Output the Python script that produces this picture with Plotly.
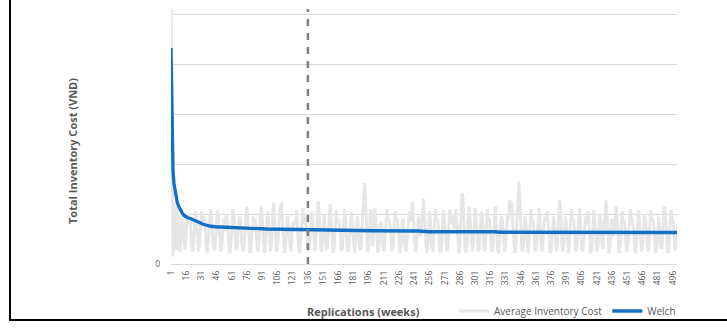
import plotly.graph_objects as go

# Replication index (weeks) and the per-replication average inventory cost
replications = list(range(1, 501))
avg_cost = [
    5.60, 2.40, 0.15, 1.25, 0.35, 0.30, 1.15, 1.00, 0.30, 0.25,
    0.70, 1.10, 0.90, 0.40, 0.28, 0.60, 1.00, 0.95, 0.80, 0.90,
    0.55, 0.25, 0.30, 0.70, 1.05, 0.95, 0.50, 0.25, 0.35, 0.80,
    1.05, 0.90, 0.85, 0.95, 0.60, 0.30, 0.22, 0.45, 0.85, 1.10,
    0.95, 0.55, 0.30, 0.28, 0.60, 0.95, 1.08, 0.85, 0.45, 0.25,
    0.30, 0.65, 0.90, 0.80, 0.88, 1.00, 0.70, 0.35, 0.22, 0.40,
    0.80, 1.10, 1.00, 0.60, 0.30, 0.28, 0.55, 0.90, 0.95, 0.75,
    0.40, 0.25, 0.35, 0.75, 1.05, 1.15, 0.80, 0.40, 0.22, 0.35,
    0.70, 0.95, 0.85, 0.90, 0.65, 0.30, 0.25, 0.50, 0.95, 1.15,
    0.90, 0.45, 0.22, 0.30, 0.70, 1.05, 0.95, 0.55, 0.25, 0.40,
    0.95, 1.22, 1.00, 0.50, 0.25, 0.30, 0.70, 1.00, 1.15, 1.22,
    0.80, 0.35, 0.22, 0.40, 0.80, 0.95, 0.75, 0.40, 0.25, 0.45,
    0.80, 0.85, 0.78, 0.88, 1.08, 0.60, 0.28, 0.22, 0.50, 0.90,
    1.12, 0.80, 0.85, 0.95, 0.65, 0.30, 0.25, 0.55, 0.90, 1.05,
    0.80, 0.40, 0.25, 0.45, 0.95, 1.25, 1.05, 0.55, 0.25, 0.30,
    0.75, 1.00, 0.70, 0.30, 0.28, 0.65, 1.00, 1.20, 0.85, 0.40,
    0.22, 0.35, 0.75, 1.08, 0.80, 0.90, 0.85, 0.50, 0.25, 0.30,
    0.70, 1.10, 0.95, 0.60, 0.28, 0.25, 0.60, 0.95, 1.05, 0.75,
    0.35, 0.22, 0.45, 0.85, 0.95, 0.70, 0.30, 0.28, 0.65, 1.10,
    1.45, 1.62, 1.20, 0.60, 0.25, 0.30, 0.70, 1.10, 0.80, 0.35,
    0.70, 1.12, 0.90, 0.45, 0.22, 0.35, 0.75, 0.85, 0.70, 0.35,
    0.25, 0.50, 0.85, 1.10, 0.85, 0.90, 0.75, 0.40, 0.25, 0.40,
    0.80, 1.05, 0.88, 0.92, 0.70, 0.35, 0.22, 0.40, 0.85, 0.90,
    0.60, 0.30, 0.25, 0.50, 0.90, 1.05, 0.85, 0.95, 1.25, 1.00,
    0.50, 0.25, 0.30, 0.70, 0.95, 0.80, 0.55, 0.70, 1.05, 1.30,
    0.95, 0.45, 0.22, 0.30, 0.70, 1.05, 0.75, 0.35, 0.25, 0.45,
    0.85, 1.10, 0.85, 0.90, 0.65, 0.30, 0.22, 0.45, 0.85, 1.08,
    0.80, 0.40, 0.25, 0.35, 0.75, 1.10, 0.80, 0.88, 0.95, 0.70,
    0.85, 1.10, 0.80, 0.40, 0.22, 0.45, 0.95, 1.42, 1.30, 0.75,
    0.30, 0.22, 0.40, 0.85, 1.15, 0.85, 0.45, 0.25, 0.35, 0.75,
    1.12, 0.90, 0.50, 0.25, 0.30, 0.70, 1.05, 0.95, 0.55, 0.25,
    0.35, 0.80, 1.10, 0.85, 0.92, 0.60, 0.28, 0.25, 0.60, 1.00,
    1.15, 0.70, 0.30, 0.22, 0.45, 0.85, 0.95, 0.80, 0.40, 0.25,
    0.40, 0.85, 1.00, 0.90, 1.28, 1.10, 1.25, 0.80, 0.35, 0.22,
    0.35, 0.75, 1.20, 1.65, 1.30, 0.70, 0.28, 0.25, 0.60, 0.95,
    0.85, 0.45, 0.22, 0.40, 0.80, 1.10, 0.85, 0.90, 0.60, 0.30,
    0.25, 0.55, 0.90, 1.12, 0.75, 0.35, 0.25, 0.45, 0.85, 0.95,
    0.85, 1.05, 0.80, 0.45, 0.22, 0.30, 0.70, 0.95, 0.85, 0.40,
    0.25, 0.40, 0.80, 1.28, 1.15, 0.60, 0.25, 0.30, 0.75, 0.95,
    0.80, 0.40, 0.22, 0.45, 0.90, 1.10, 0.85, 0.90, 0.65, 0.30,
    0.25, 0.55, 0.95, 1.12, 0.70, 0.30, 0.25, 0.50, 0.85, 0.95,
    0.80, 1.05, 0.85, 0.50, 0.22, 0.30, 0.70, 1.08, 0.90, 0.45,
    0.25, 0.35, 0.75, 1.00, 0.85, 0.40, 0.30, 0.65, 1.05, 1.28,
    0.95, 0.45, 0.22, 0.35, 0.80, 0.90, 0.55, 0.60, 0.95, 1.15,
    0.90, 0.40, 0.22, 0.40, 0.85, 1.05, 0.80, 0.88, 0.60, 0.28,
    0.25, 0.55, 0.90, 1.10, 0.85, 0.90, 0.70, 0.35, 0.22, 0.40,
    0.80, 1.08, 0.85, 0.45, 0.25, 0.35, 0.80, 1.00, 0.90, 0.50,
    0.25, 0.30, 0.70, 1.08, 0.85, 0.92, 0.80, 0.40, 0.22, 0.35,
    0.75, 0.95, 0.70, 0.35, 0.30, 0.70, 1.05, 1.15, 0.85, 0.40,
    0.22, 0.35, 0.80, 1.08, 0.85, 0.90, 0.60, 0.28, 0.30, 0.75,
]

# Welch moving-average curve, read at its bends
welch_x = [1, 2, 3, 4, 5, 6, 7, 8, 10, 12, 14, 17, 20, 24, 28, 32, 36, 40,
           45, 50, 60, 70, 80, 95, 110, 125, 135, 150, 200, 245, 255, 320, 325,
           500]
welch_y = [4.32, 2.30, 1.85, 1.60, 1.45, 1.33, 1.25, 1.18, 1.09, 1.02, 0.97,
           0.93, 0.91, 0.88, 0.84, 0.80, 0.77, 0.755, 0.745, 0.74, 0.725, 0.71,
           0.705, 0.70, 0.695, 0.69, 0.675, 0.675, 0.665, 0.66, 0.645, 0.645,
           0.635, 0.63]

warmup_end = 136
tick_labels = list(range(1, 497, 15))
y_gridlines = [0, 1, 2, 3, 4, 5]

W, H = 727, 328
ML, MR, MT, MB = 171, 50, 9, 64
PW, PH = W - ML - MR, H - MT - MB


def px_x(px):
    return (px - ML) / PW


def px_y(py):
    return (H - MB - py) / PH


TEXT = "#595959"
FONT = "Open Sans"

fig = go.Figure()
fig.add_trace(go.Scatter(
    x=replications, y=avg_cost, mode="lines", name="Average Inventory Cost",
    line=dict(color="#e6e6e6", width=3), hoverinfo="skip",
))
fig.add_trace(go.Scatter(
    x=welch_x, y=welch_y, mode="lines", name="Welch",
    line=dict(color="#1170c4", width=3.3),
))

# warm-up cut-off marker
fig.add_shape(type="line", xref="x", yref="paper", x0=warmup_end, x1=warmup_end,
              y0=0, y1=1, line=dict(color="#7f7f7f", width=2.5, dash="7px,7px"))

# frame edges around the chart
fig.add_shape(type="line", xref="paper", yref="paper",
              x0=px_x(10), x1=px_x(10), y0=px_y(-2), y1=px_y(321),
              line=dict(color="black", width=2))
fig.add_shape(type="line", xref="paper", yref="paper",
              x0=px_x(9), x1=px_x(730), y0=px_y(320), y1=px_y(320),
              line=dict(color="black", width=2))

fig.add_annotation(text="<b>Total Inventory Cost (VND)</b>", xref="paper", yref="paper",
                   x=px_x(72), y=px_y(151), textangle=-90, showarrow=False,
                   xanchor="center", yanchor="middle",
                   font=dict(family=FONT, size=11, color=TEXT))
fig.add_annotation(text="<b>Replications (weeks)</b>", xref="paper", yref="paper",
                   x=px_x(363), y=px_y(311), showarrow=False,
                   xanchor="center", yanchor="middle",
                   font=dict(family=FONT, size=11, color=TEXT))

fig.update_layout(
    width=W, height=H,
    margin=dict(l=ML, r=MR, t=MT, b=MB, autoexpand=False),
    paper_bgcolor="white", plot_bgcolor="white",
    font=dict(family=FONT, color=TEXT),
    showlegend=True,
    legend=dict(orientation="h", xanchor="right", yanchor="middle",
                x=px_x(681), y=px_y(311), font=dict(size=10, color=TEXT),
                bgcolor="rgba(0,0,0,0)", itemwidth=30, tracegroupgap=0),
    xaxis=dict(range=[1, 500], tickmode="array", tickvals=tick_labels,
               ticktext=[str(v) for v in tick_labels], tickangle=-90,
               showgrid=False, zeroline=False, showline=False, automargin=False,
               tickfont=dict(size=8.5, color=TEXT), ticklabelstandoff=4),
    yaxis=dict(range=[0, 5.1], tickmode="array", tickvals=y_gridlines,
               ticktext=["0", "", "", "", "", ""], showgrid=True,
               gridcolor="#d9d9d9", gridwidth=1, zeroline=True, automargin=False,
               zerolinecolor="#d9d9d9", zerolinewidth=1, showline=False,
               tickfont=dict(size=8.5, color=TEXT), ticklabelstandoff=10),
)

fig.write_html("out.html")
